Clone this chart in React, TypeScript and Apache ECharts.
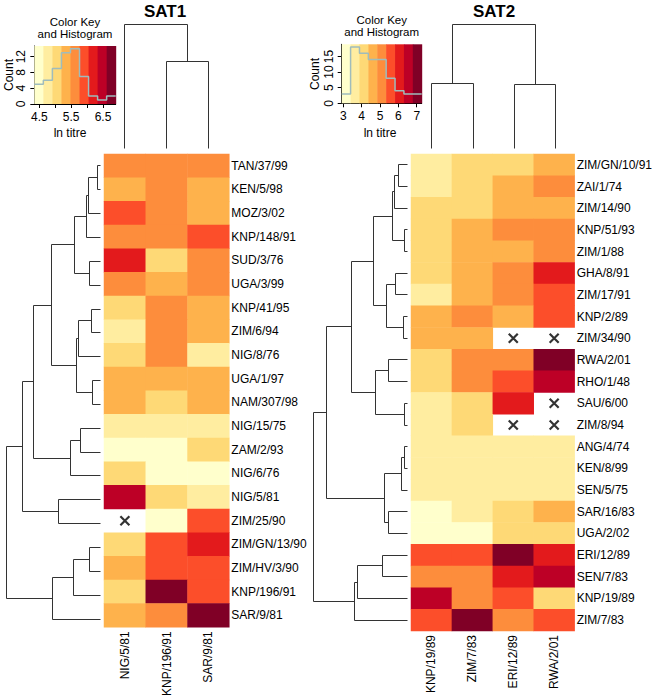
import React, { useEffect, useRef } from "react";
import * as echarts from "echarts";

const FONT = '"Liberation Sans", Arial, Helvetica, sans-serif';
const PALETTE = ["#FFFFCC", "#FFEDA0", "#FED976", "#FEB24C", "#FD8D3C", "#FC4E2A", "#E31A1C", "#BD0026", "#800026"];
const HIST_COLOR = "#9fbcbc";
const DENDRO_COLOR = "#333333";

// ---------------- SAT1 ----------------
const sat1Cols = ["NIG/5/81", "KNP/196/91", "SAR/9/81"];
const sat1Rows = [
  "TAN/37/99", "KEN/5/98", "MOZ/3/02", "KNP/148/91", "SUD/3/76", "UGA/3/99", "KNP/41/95",
  "ZIM/6/94", "NIG/8/76", "UGA/1/97", "NAM/307/98", "NIG/15/75", "ZAM/2/93", "NIG/6/76",
  "NIG/5/81", "ZIM/25/90", "ZIM/GN/13/90", "ZIM/HV/3/90", "KNP/196/91", "SAR/9/81",
];
const sat1Values: (number | null)[][] = [
  [5.62, 5.58, 5.66],
  [5.38, 5.55, 5.3],
  [5.92, 5.64, 5.41],
  [5.7, 5.52, 5.95],
  [6.21, 5.08, 5.6],
  [5.55, 5.35, 5.68],
  [5.05, 5.72, 5.28],
  [4.78, 5.65, 5.36],
  [5.12, 5.6, 4.82],
  [5.42, 5.33, 5.4],
  [5.3, 5.15, 5.44],
  [4.72, 4.8, 4.85],
  [4.48, 4.55, 5.02],
  [4.98, 4.42, 4.4],
  [6.48, 5.1, 4.75],
  [null, 4.34, 5.85],
  [4.95, 5.88, 6.28],
  [5.35, 5.98, 5.8],
  [5.18, 6.85, 5.9],
  [5.46, 5.7, 6.9],
];
// merges: negative = leaf (-(index+1)), positive = earlier merge (1-based)
const sat1RowMerges: [number, number][] = [
  [-1, -2], [1, -3], [2, -4], [-5, -6], [3, 4], [-7, -8], [6, -9], [-10, -11], [7, 8], [5, 9],
  [-12, -13], [11, -14], [10, 12], [-15, -16], [13, 14], [-17, -18], [16, -19], [17, -20], [15, 18],
];
const sat1RowHeights = [0.03, 0.12, 0.14, 0.11, 0.26, 0.09, 0.22, 0.08, 0.24, 0.49, 0.2, 0.3, 0.67, 0.42, 0.78, 0.11, 0.27, 0.48, 0.94];
const sat1ColMerges: [number, number][] = [[-2, -3], [-1, 1]];
const sat1ColHeights = [0.87, 1.24];
const sat1XTicks = [4.5, 5, 5.5, 6, 6.5];
const sat1XLabels = [4.5, 5.5, 6.5];
const sat1YTicks = [0, 4, 8, 12];

// ---------------- SAT2 ----------------
const sat2Cols = ["KNP/19/89", "ZIM/7/83", "ERI/12/89", "RWA/2/01"];
const sat2Rows = [
  "ZIM/GN/10/91", "ZAI/1/74", "ZIM/14/90", "KNP/51/93", "ZIM/1/88", "GHA/8/91", "ZIM/17/91",
  "KNP/2/89", "ZIM/34/90", "RWA/2/01", "RHO/1/48", "SAU/6/00", "ZIM/8/94", "ANG/4/74",
  "KEN/8/99", "SEN/5/75", "SAR/16/83", "UGA/2/02", "ERI/12/89", "SEN/7/83", "KNP/19/89", "ZIM/7/83",
];
const sat2Values: (number | null)[][] = [
  [3.6, 4.05, 4.2, 4.6],
  [3.55, 4.1, 4.55, 5.0],
  [4.0, 4.15, 4.5, 4.65],
  [4.12, 4.58, 5.05, 5.1],
  [4.08, 4.62, 4.7, 5.15],
  [4.18, 4.52, 5.08, 6.05],
  [3.7, 4.66, 5.12, 5.6],
  [4.55, 4.95, 4.68, 5.55],
  [4.48, 4.72, null, null],
  [4.25, 5.02, 5.2, 6.95],
  [4.22, 5.18, 5.5, 6.5],
  [3.75, 4.28, 6.1, null],
  [3.8, 4.3, null, null],
  [3.62, 3.65, 3.58, 3.7],
  [3.68, 3.6, 3.72, 3.66],
  [3.64, 3.7, 3.62, 3.74],
  [3.2, 3.78, 4.2, 4.7],
  [2.91, 3.1, 4.05, 4.22],
  [5.48, 5.62, 7.27, 6.0],
  [5.1, 5.25, 6.15, 6.6],
  [6.45, 5.15, 5.7, 4.02],
  [5.65, 7.05, 5.22, 5.45],
];
const sat2RowMerges: [number, number][] = [
  [-1, -2], [1, -3], [-4, -5], [2, 3], [-6, -7], [-8, -9], [5, 6], [4, 7], [-10, -11], [-12, -13],
  [9, 10], [8, 11], [-14, -15], [13, -16], [-17, -18], [14, 15], [12, 16], [-19, -20], [18, -21], [19, -22], [17, 20],
];
const sat2RowHeights = [0.097, 0.13, 0.037, 0.153, 0.12, 0.04, 0.213, 0.347, 0.197, 0.037, 0.323, 0.563, 0.037, 0.063, 0.19, 0.237, 0.813, 0.257, 0.503, 0.53, 0.947];
const sat2ColMerges: [number, number][] = [[-1, -2], [-3, -4], [1, 2]];
const sat2ColHeights = [0.65, 0.64, 1.24];
const sat2XTicks = [3, 4, 5, 6, 7];
const sat2XLabels = [3, 4, 5, 6, 7];
const sat2YTicks = [0, 5, 10, 15];

// ---------------- helpers ----------------
function flat(values: (number | null)[][]): number[] {
  const out: number[] = [];
  values.forEach((r) => r.forEach((v) => { if (v !== null) out.push(v); }));
  return out;
}
function makeBreaks(values: (number | null)[][]): number[] {
  const f = flat(values);
  const mn = Math.min(...f), mx = Math.max(...f);
  const e: number[] = [];
  for (let i = 0; i <= 9; i++) e.push(mn + (i * (mx - mn)) / 9);
  e[9] = mx;
  return e;
}
function histCounts(values: (number | null)[][], edges: number[]): number[] {
  const c = new Array(9).fill(0);
  const w = (edges[9] - edges[0]) / 9;
  flat(values).forEach((v) => {
    const i = Math.min(8, Math.floor((v - edges[0]) / w + 1e-9));
    c[i]++;
  });
  return c;
}
function dendroLines(merges: [number, number][], heights: number[], rowWise: boolean): number[][][] {
  const pos: number[] = [], hts: number[] = [];
  const lines: number[][][] = [];
  const info = (c: number) => (c < 0 ? { p: -c - 1, h: 0 } : { p: pos[c - 1], h: hts[c - 1] });
  merges.forEach(([a, b], i) => {
    const A = info(a), B = info(b), h = heights[i];
    pos[i] = (A.p + B.p) / 2;
    hts[i] = h;
    const pts = [[A.h, A.p], [h, A.p], [h, B.p], [B.h, B.p]];
    lines.push(rowWise ? pts : pts.map(([x, y]) => [y, x]));
  });
  return lines;
}
const snap = (v: number) => Math.round(v - 0.5) + 0.5;
function dendroSeries(lines: number[][][], idx: number) {
  return {
    type: "custom",
    xAxisIndex: idx,
    yAxisIndex: idx,
    clip: false,
    silent: true,
    data: lines.map((_, i) => [i]),
    encode: { x: -1, y: -1 },
    renderItem: (params: any, api: any) => ({
      type: "polyline",
      shape: {
        points: lines[params.dataIndex].map((p) => {
          const c = api.coord(p);
          return [snap(c[0]), snap(c[1])];
        }),
      },
      style: { stroke: DENDRO_COLOR, lineWidth: 1, fill: null },
    }),
  };
}
function bandSeries(edges: number[], ymax: number, idx: number) {
  const data = PALETTE.map((_, i) => [edges[i], edges[i + 1], i]);
  return {
    type: "custom",
    xAxisIndex: idx,
    yAxisIndex: idx,
    silent: true,
    data,
    encode: { x: [0, 1], y: -1 },
    renderItem: (params: any, api: any) => {
      const d = data[params.dataIndex];
      const p0 = api.coord([d[0], ymax]);
      const p1 = api.coord([d[1], 0]);
      return {
        type: "rect",
        shape: { x: p0[0], y: p0[1], width: p1[0] - p0[0] + 0.5, height: p1[1] - p0[1] },
        style: { fill: PALETTE[d[2]] },
      };
    },
  };
}
function histSeries(edges: number[], counts: number[], idx: number) {
  const pts: number[][] = [];
  counts.forEach((c, i) => { pts.push([edges[i], c]); pts.push([edges[i + 1], c]); });
  return {
    type: "line",
    xAxisIndex: idx,
    yAxisIndex: idx,
    data: pts,
    symbol: "none",
    silent: true,
    lineStyle: { color: HIST_COLOR, width: 1.5 },
  };
}
function keyAxes(idx: number, edges: number[], ymax: number, xt: number[], xl: number[], yt: number[]) {
  const line = { show: true, onZero: false, lineStyle: { color: "#000", width: 1 } };
  return {
    x: {
      type: "value", gridIndex: idx, min: edges[0], max: edges[9],
      axisLine: line,
      axisTick: { show: true, customValues: xt, length: 4, lineStyle: { color: "#000" } },
      axisLabel: { customValues: xl, fontSize: 12, color: "#000", margin: 7, fontFamily: FONT, formatter: (v: number) => String(v) },
      splitLine: { show: false },
    },
    y: {
      type: "value", gridIndex: idx, min: 0, max: ymax,
      axisLine: line,
      axisTick: { show: true, customValues: yt, length: 4, lineStyle: { color: "#000" } },
      axisLabel: { customValues: yt, fontSize: 12, color: "#000", margin: 7, rotate: 90, fontFamily: FONT, formatter: (v: number) => String(v) },
      splitLine: { show: false },
    },
  };
}
function hiddenAxis(idx: number, min: number, max: number, inverse = false) {
  return { type: "value", gridIndex: idx, min, max, inverse, show: false, splitLine: { show: false } };
}
function heatAxes(idx: number, cols: string[], rows: string[]) {
  return {
    x: {
      type: "category", gridIndex: idx, data: cols, position: "bottom",
      axisLine: { show: false }, axisTick: { show: false }, splitLine: { show: false },
      axisLabel: { interval: 0, rotate: 90, fontSize: 12, color: "#000", margin: 4, fontFamily: FONT },
    },
    y: {
      type: "category", gridIndex: idx, data: rows, inverse: true, position: "right",
      axisLine: { show: false }, axisTick: { show: false }, splitLine: { show: false },
      axisLabel: { interval: 0, fontSize: 12, color: "#000", margin: 2, fontFamily: FONT },
    },
  };
}
function heatData(values: (number | null)[][]) {
  const d: number[][] = [];
  values.forEach((r, ri) => r.forEach((v, ci) => { if (v !== null) d.push([ci, ri, v]); }));
  return d;
}
function naData(values: (number | null)[][]) {
  const d: number[][] = [];
  values.forEach((r, ri) => r.forEach((v, ci) => { if (v === null) d.push([ci, ri]); }));
  return d;
}
function pieces(edges: number[]) {
  return PALETTE.map((c, i) =>
    i < 8 ? { gte: edges[i], lt: edges[i + 1], color: c } : { gte: edges[i], lte: edges[i + 1] + 1e-6, color: c }
  );
}

export default function App() {
  const ref = useRef<HTMLDivElement>(null);
  useEffect(() => {
    if (!ref.current) return;
    const chart = echarts.init(ref.current, undefined, { renderer: "svg" });

    const e1 = makeBreaks(sat1Values), e2 = makeBreaks(sat2Values);
    const c1 = histCounts(sat1Values, e1), c2 = histCounts(sat2Values, e2);
    const ym1 = Math.max(...c1) * 1.05, ym2 = Math.max(...c2) * 1.05;
    const k1 = keyAxes(0, e1, ym1, sat1XTicks, sat1XLabels, sat1YTicks);
    const k2 = keyAxes(1, e2, ym2, sat2XTicks, sat2XLabels, sat2YTicks);
    const h1 = heatAxes(6, sat1Cols, sat1Rows);
    const h2 = heatAxes(7, sat2Cols, sat2Rows);

    const xSym = "path://M0,0L10,10M10,0L0,10";
    const naSeries = (idx: number, values: (number | null)[][]) => ({
      type: "scatter", xAxisIndex: idx, yAxisIndex: idx, silent: true,
      data: naData(values), symbol: xSym, symbolSize: 9,
      itemStyle: { color: "rgba(0,0,0,0)", borderColor: "#000", borderWidth: 2.2 },
    });
    const txt = (text: string, x: number, y: number, extra: any = {}, rot = 0) => ({
      type: "text", x, y, rotation: rot,
      style: { text, fontSize: 12, fontFamily: FONT, fill: "#000", align: "center", verticalAlign: "middle", ...extra },
    });

    const option: any = {
      animation: false,
      textStyle: { fontFamily: FONT },
      grid: [
        { left: 34.3, top: 46, width: 81.4, height: 58 },
        { left: 341.7, top: 44.3, width: 80, height: 59 },
        { left: 104, top: 24, width: 125.3, height: 124 },
        { left: 411, top: 24, width: 165.7, height: 124 },
        { left: 0, top: 154, width: 100, height: 477 },
        { left: 307.7, top: 154, width: 100, height: 477 },
        { left: 104, top: 154, width: 125.3, height: 477 },
        { left: 411, top: 154, width: 165.7, height: 477 },
      ],
      xAxis: [
        k1.x, k2.x,
        hiddenAxis(2, -0.5, sat1Cols.length - 0.5),
        hiddenAxis(3, -0.5, sat2Cols.length - 0.5),
        hiddenAxis(4, 0, 1, true),
        hiddenAxis(5, 0, 1, true),
        h1.x, h2.x,
      ],
      yAxis: [
        k1.y, k2.y,
        hiddenAxis(2, 0, 1.24),
        hiddenAxis(3, 0, 1.24),
        hiddenAxis(4, -0.5, sat1Rows.length - 0.5, true),
        hiddenAxis(5, -0.5, sat2Rows.length - 0.5, true),
        h1.y, h2.y,
      ],
      visualMap: [
        { type: "piecewise", show: false, seriesIndex: 8, dimension: 2, pieces: pieces(e1) },
        { type: "piecewise", show: false, seriesIndex: 9, dimension: 2, pieces: pieces(e2) },
      ],
      series: [
        bandSeries(e1, ym1, 0),
        bandSeries(e2, ym2, 1),
        histSeries(e1, c1, 0),
        histSeries(e2, c2, 1),
        dendroSeries(dendroLines(sat1ColMerges, sat1ColHeights, false), 2),
        dendroSeries(dendroLines(sat2ColMerges, sat2ColHeights, false), 3),
        dendroSeries(dendroLines(sat1RowMerges, sat1RowHeights, true), 4),
        dendroSeries(dendroLines(sat2RowMerges, sat2RowHeights, true), 5),
        {
          type: "heatmap", xAxisIndex: 6, yAxisIndex: 6, data: heatData(sat1Values), silent: true,
          itemStyle: { borderWidth: 0 }, emphasis: { disabled: true },
        },
        {
          type: "heatmap", xAxisIndex: 7, yAxisIndex: 7, data: heatData(sat2Values), silent: true,
          itemStyle: { borderWidth: 0 }, emphasis: { disabled: true },
        },
        naSeries(6, sat1Values),
        naSeries(7, sat2Values),
      ],
      graphic: [
        txt("SAT1", 165, 11, { fontSize: 17, fontWeight: "bold" }),
        txt("SAT2", 494, 11, { fontSize: 17, fontWeight: "bold" }),
        txt("Color Key", 75, 21.5, { fontSize: 11.5 }),
        txt("and Histogram", 75, 33.5, { fontSize: 11.5 }),
        txt("Color Key", 381.7, 19.5, { fontSize: 11.5 }),
        txt("and Histogram", 381.7, 31.8, { fontSize: 11.5 }),
        txt("Count", 8.5, 75, {}, Math.PI / 2),
        txt("Count", 315, 74, {}, Math.PI / 2),
        txt("ln titre", 70, 133),
        txt("ln titre", 380, 133),
      ],
    };
    chart.setOption(option);
    return () => chart.dispose();
  }, []);
  return <div ref={ref} style={{ position: "fixed", left: 0, top: 0, width: 655, height: 699, background: "#fff" }} />;
}
